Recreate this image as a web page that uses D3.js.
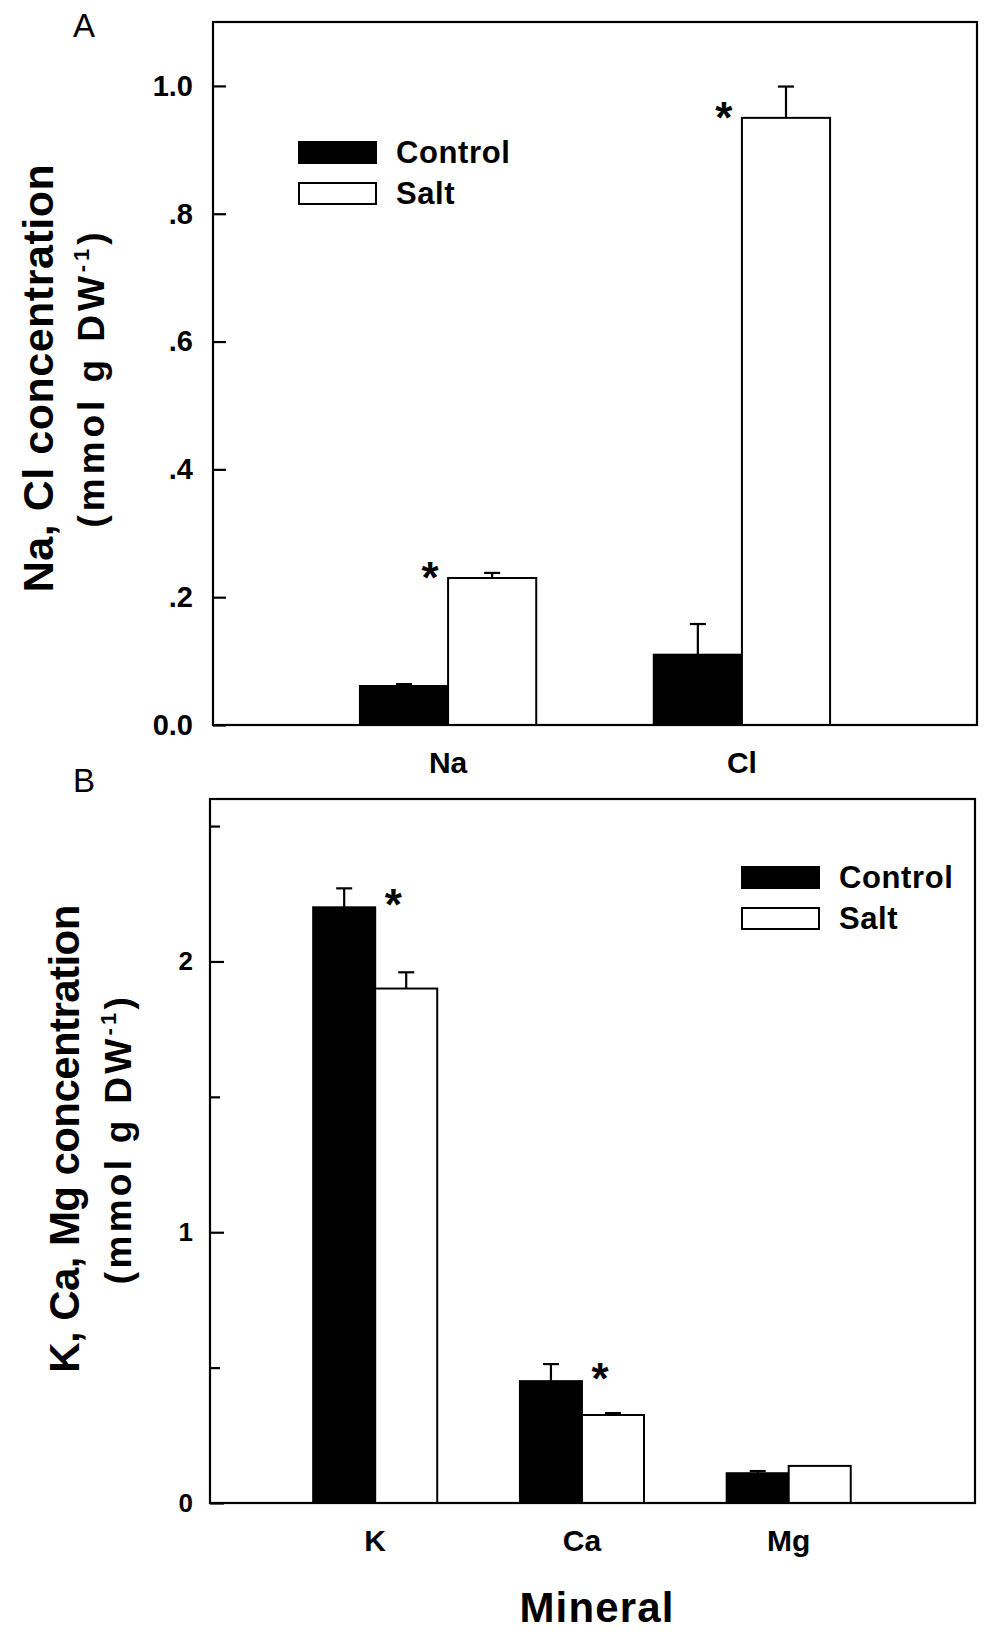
<!DOCTYPE html>
<html>
<head>
<meta charset="utf-8">
<script src="https://cdn.jsdelivr.net/npm/d3@7"></script>
<style>
  html, body { margin: 0; padding: 0; background: #fff; }
  svg { display: block; }
  text { font-family: "Liberation Sans", Arial, Helvetica, sans-serif; fill: #000; }
</style>
</head>
<body>
<svg id="chart" width="1000" height="1639"></svg>
<script>
// ---------------- DATA ----------------
const seriesNames = ["Control", "Salt"];

// Panel A
const categoriesA = ["Na", "Cl"];
const controlA = [0.061, 0.110];
const controlErrA = [0.003, 0.048];
const saltA = [0.230, 0.950];
const saltErrA = [0.008, 0.049];
const significantA = ["Na", "Cl"];
const tickValuesA = [0, 0.2, 0.4, 0.6, 0.8, 1.0];
const tickLabelsA = ["0.0", ".2", ".4", ".6", ".8", "1.0"];

// Panel B
const categoriesB = ["K", "Ca", "Mg"];
const controlB = [2.20, 0.45, 0.11];
const controlErrB = [0.07, 0.063, 0.008];
const saltB = [1.90, 0.325, 0.137];
const saltErrB = [0.06, 0.007, 0];
const significantB = ["K", "Ca"];
const tickValuesB = [0, 1, 2];
const tickLabelsB = ["0", "1", "2"];
const minorTickValuesB = [0.5, 1.5, 2.5];

// ---------------- DRAW ----------------
const svg = d3.select("#chart");
const FONT = '"Liberation Sans", Arial, Helvetica, sans-serif';

function fitText(sel, target) {
  const node = sel.node();
  const natural = node.getComputedTextLength();
  const n = node.textContent.length;
  if (n > 1) sel.style("letter-spacing", ((target - natural) / (n - 1)) + "px");
}

function panel(cfg) {
  const g = svg.append("g");
  const x = d3.scalePoint().domain(cfg.categories)
    .range([cfg.left, cfg.right]).padding(cfg.padding).align(cfg.align);
  const y = d3.scaleLinear().domain([0, cfg.yMax]).range([cfg.bottom, cfg.top]);
  const bw = x.step() * 0.3;
  const inner = d3.scaleBand().domain(seriesNames).range([-bw, bw]).padding(0);

  const rows = [];
  cfg.categories.forEach((c, i) => {
    rows.push({cat: c, s: "Control", v: cfg.control[i], e: cfg.controlErr[i]});
    rows.push({cat: c, s: "Salt", v: cfg.salt[i], e: cfg.saltErr[i]});
  });

  // error bars (upper only)
  const eb = g.append("g").attr("stroke", "#000").attr("stroke-width", 2.2);
  rows.filter(d => d.e > 0).forEach(d => {
    const cx = x(d.cat) + inner(d.s) + inner.bandwidth() / 2;
    eb.append("line").attr("x1", cx).attr("x2", cx).attr("y1", y(d.v)).attr("y2", y(d.v + d.e));
    eb.append("line").attr("x1", cx - 8).attr("x2", cx + 8).attr("y1", y(d.v + d.e)).attr("y2", y(d.v + d.e));
  });

  // bars
  g.append("g").selectAll("rect").data(rows).join("rect")
    .attr("x", d => x(d.cat) + inner(d.s))
    .attr("width", inner.bandwidth())
    .attr("y", d => y(d.v))
    .attr("height", d => y(0) - y(d.v))
    .attr("fill", d => d.s === "Control" ? "#000" : "#fff")
    .attr("stroke", "#000").attr("stroke-width", 2);

  // frame
  g.append("rect").attr("x", cfg.left).attr("y", cfg.top)
    .attr("width", cfg.right - cfg.left).attr("height", cfg.bottom - cfg.top)
    .attr("fill", "none").attr("stroke", "#000").attr("stroke-width", 2.2);

  // y axis
  const ax = d3.axisLeft(y).tickValues(cfg.ticks)
    .tickFormat((d, i) => cfg.tickLabels[i])
    .tickSizeInner(-cfg.tickLen).tickSizeOuter(0).tickPadding(cfg.tickPad);
  const axg = g.append("g").attr("transform", `translate(${cfg.left},0)`).call(ax);
  axg.select(".domain").remove();
  axg.selectAll("line").attr("stroke", "#000").attr("stroke-width", 2.2);
  axg.selectAll("text").attr("font-family", FONT).attr("font-size", cfg.tickFont)
    .attr("font-weight", "bold").attr("fill", "#000");

  if (cfg.minorTicks) {
    const mx = d3.axisLeft(y).tickValues(cfg.minorTicks).tickFormat("")
      .tickSizeInner(-10).tickSizeOuter(0);
    const mg = g.append("g").attr("transform", `translate(${cfg.left},0)`).call(mx);
    mg.select(".domain").remove();
    mg.selectAll("line").attr("stroke", "#000").attr("stroke-width", 2.2);
  }

  // x labels
  g.append("g").selectAll("text").data(cfg.categories).join("text")
    .attr("x", d => x(d)).attr("y", cfg.bottom + 48)
    .attr("text-anchor", "middle").attr("font-size", 30).attr("font-weight", "bold")
    .text(d => d);

  // significance asterisks
  cfg.significant.forEach(c => {
    const i = cfg.categories.indexOf(c);
    let ax0, ay0;
    if (cfg.starSide === "leftOfSalt") {
      ax0 = x(c) + inner("Salt") - 18;
      ay0 = y(cfg.salt[i]) - 8;
    } else {
      ax0 = x(c) + inner("Control") + inner.bandwidth() + 18;
      ay0 = y(cfg.control[i]) - 10;
    }
    g.append("text").attr("x", ax0).attr("y", ay0 + 23)
      .attr("text-anchor", "middle").attr("font-size", 44).attr("font-weight", "bold")
      .text("*");
  });

  // legend
  const lg = g.append("g");
  seriesNames.forEach((s, i) => {
    const ly = cfg.legendY + i * 41;
    lg.append("rect").attr("x", cfg.legendX).attr("y", ly)
      .attr("width", 77).attr("height", 21)
      .attr("fill", s === "Control" ? "#000" : "#fff")
      .attr("stroke", "#000").attr("stroke-width", 2);
    const lt = lg.append("text").attr("x", cfg.legendX + 97).attr("y", ly + 21)
      .attr("font-size", 31).attr("font-weight", "bold").text(s);
    lt.style("letter-spacing", "0.6px");
  });

  // y title (two lines, rotated)
  const t1 = g.append("text")
    .attr("transform", `translate(${cfg.title1X},${cfg.titleCY}) rotate(-90)`)
    .attr("text-anchor", "middle").attr("font-size", cfg.title1Font).attr("font-weight", "bold")
    .text(cfg.title1);
  fitText(t1, cfg.title1Len);
  const t2 = g.append("text")
    .attr("transform", `translate(${cfg.title2X},${cfg.titleCY}) rotate(-90)`)
    .attr("text-anchor", "middle").attr("font-size", 37).attr("font-weight", "bold");
  t2.append("tspan").text("(mmol g DW");
  t2.append("tspan").attr("font-size", 22).attr("dy", -15).text("-1");
  t2.append("tspan").attr("dy", 15).text(")");
  fitText(t2, cfg.title2Len);

  // panel letter
  g.append("text").attr("x", 73).attr("y", cfg.letterY)
    .attr("font-size", 33).attr("font-weight", "normal").text(cfg.letter);

  return {x, y};
}

panel({
  categories: categoriesA, control: controlA, controlErr: controlErrA,
  salt: saltA, saltErr: saltErrA, significant: significantA,
  ticks: tickValuesA, tickLabels: tickLabelsA,
  left: 213, right: 977, top: 22, bottom: 725, yMax: 1.1,
  padding: 0.8, align: 0.5, tickLen: 13, tickPad: 20, tickFont: 29,
  starSide: "leftOfSalt",
  legendX: 299, legendY: 142,
  title1: "Na, Cl concentration", title1X: 53, title1Font: 43, title1Len: 428,
  title2X: 104, title2Len: 295, titleCY: 378,
  letter: "A", letterY: 37
});

panel({
  categories: categoriesB, control: controlB, controlErr: controlErrB,
  salt: saltB, saltErr: saltErrB, significant: significantB,
  ticks: tickValuesB, tickLabels: tickLabelsB, minorTicks: minorTickValuesB,
  left: 210, right: 975, top: 799, bottom: 1503, yMax: 2.6,
  padding: 0.85, align: 0.47, tickLen: 14, tickPad: 17, tickFont: 26,
  starSide: "rightOfControl",
  legendX: 742, legendY: 867,
  title1: "K, Ca, Mg concentration", title1X: 79, title1Font: 42, title1Len: 468,
  title2X: 131, title2Len: 287, titleCY: 1139,
  letter: "B", letterY: 792
});

// x-axis title
const xt = svg.append("text").attr("x", 597).attr("y", 1622)
  .attr("text-anchor", "middle").attr("font-size", 42).attr("font-weight", "bold")
  .text("Mineral");
fitText(xt, 154);
</script>
</body>
</html>
